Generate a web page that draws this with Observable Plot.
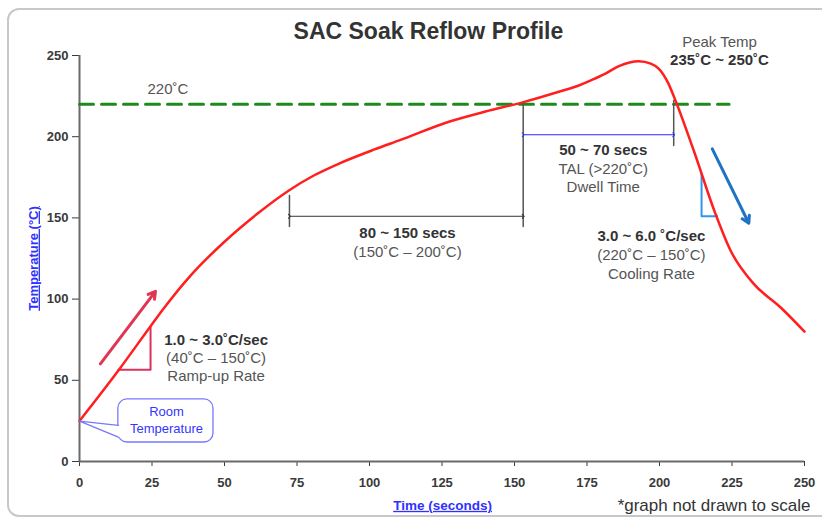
<!DOCTYPE html>
<html>
<head>
<meta charset="utf-8">
<script src="https://cdn.jsdelivr.net/npm/d3@7"></script>
<script src="https://cdn.jsdelivr.net/npm/@observablehq/plot@0.6"></script>
<style>
  body { margin: 0; background: #fff; }
  #wrap { position: relative; width: 822px; height: 517px; overflow: hidden; background: #fff; }
  #frame { position: absolute; left: 7px; top: 8px; width: 840px; height: 509px; border: 2px solid #c8c8c8; border-radius: 12px; pointer-events: none; box-sizing: border-box; }
</style>
</head>
<body>
<div id="wrap"><div id="frame"></div></div>
<script>
// ---- data (time in seconds, temperature in °C) ----
const curveTime = [0, 13.6, 24.5, 28.5, 38.3, 49.8, 61.3, 72.2, 80.8, 89.7, 101.5, 110.7, 127.9, 140, 152.5, 165, 172.8, 176.5, 181, 186, 192.9, 197, 199.8, 203, 205.5, 211.8, 219.3, 224.5, 232.5, 241.7, 250];
const curveTemp = [25, 56.5, 83.3, 93, 114.5, 135, 152.5, 166.9, 176.1, 183.6, 192, 198, 209.5, 215.5, 221, 227.5, 232, 234.8, 238.5, 243.5, 246.5, 245, 241.8, 233, 222.3, 191.5, 152.5, 129.9, 109.4, 95, 80];
const xTicks = [0, 25, 50, 75, 100, 125, 150, 175, 200, 225, 250];
const yTicks = [0, 50, 100, 150, 200, 250];
const liquidusTemp = 220;
const liquidusSpan = [0, 224];

// soak and TAL spans
const soakStart = 72.4, soakEnd = 153, soakArrowTemp = 151, soakGuideBottom = 144.7;
const talEnd = 204.9, talArrowTemp = 201.2, talGuideBottom = 194.6;

// annotation anchor points (time, temp)
const guides = [
  {id: "a", t: soakStart, temp: 163.8}, {id: "a", t: soakStart, temp: soakGuideBottom},
  {id: "b", t: soakEnd, temp: 221}, {id: "b", t: soakEnd, temp: soakGuideBottom},
  {id: "c", t: talEnd, temp: 222.3}, {id: "c", t: talEnd, temp: talGuideBottom}
];
const rampTriangle = [{t: 13.4, temp: 56.5}, {t: 24.5, temp: 56.5}, {t: 24.5, temp: 83}];
const coolTriangle = [{t: 214.5, temp: 177.2}, {t: 214.5, temp: 151}, {t: 219.9, temp: 151}];
const rampArrow = [{t1: 7.2, y1: 60.1, t2: 26.2, y2: 104.8}];
const coolArrow = [{t1: 218.2, y1: 192.5, t2: 230.8, y2: 146.7}];

const roomBox = [{t1: 13.4, t2: 46.2, y1: 11.7, y2: 38.2}];
const roomPointer = [{t: 13.4, temp: 22.2}, {t: 0, temp: 24.8}, {t: 13.4, temp: 15}];
const roomPointerCover = [{t: 13.4, temp: 22.2}, {t: 0, temp: 24.8}, {t: 13.4, temp: 15}, {t: 14.4, temp: 15}, {t: 14.4, temp: 22.2}];
const roomLabels = [{t: 30, temp: 30.4, text: "Room"}, {t: 30, temp: 20.2, text: "Temperature"}];

const boldNotes = [
  {t: 47.1, temp: 74.9, text: "1.0 ~ 3.0˚C/sec"},
  {t: 113.1, temp: 140.6, text: "80 ~ 150 secs"},
  {t: 180.6, temp: 191.5, text: "50 ~ 70 secs"},
  {t: 197.2, temp: 138.7, text: "3.0 ~ 6.0 ˚C/sec"},
  {t: 220.7, temp: 246.9, text: "235˚C ~ 250˚C"}
];
const plainNotes = [
  {t: 47.1, temp: 63.8, text: "(40˚C – 150˚C)"},
  {t: 47.1, temp: 52.3, text: "Ramp-up Rate"},
  {t: 113.1, temp: 128.9, text: "(150˚C – 200˚C)"},
  {t: 180.6, temp: 179.8, text: "TAL (>220˚C)"},
  {t: 180.6, temp: 168.9, text: "Dwell Time"},
  {t: 197.2, temp: 126.8, text: "(220˚C – 150˚C)"},
  {t: 197.2, temp: 115.6, text: "Cooling Rate"},
  {t: 220.7, temp: 258, text: "Peak Temp"},
  {t: 30.5, temp: 229, text: "220˚C"}
];

const titleText = "SAC Soak Reflow Profile";
const xLabel = "Time (seconds)";
const yLabel = "Temperature (°C)";
const captionText = "*graph not drawn to scale";

const curve = curveTime.map((t, i) => ({t, temp: curveTemp[i]}));
const font = "'Liberation Sans', Arial, sans-serif";
const centered = {textAnchor: "middle", lineAnchor: "middle"};

const chart = Plot.plot({
  width: 822,
  height: 517,
  marginLeft: 79,
  marginRight: 18,
  marginTop: 55,
  marginBottom: 56,
  style: {fontFamily: font, background: "transparent", overflow: "visible"},
  x: {domain: [0, 250]},
  y: {domain: [0, 250]},
  marks: [
    Plot.axisX({ticks: xTicks, tickSize: 5, tickPadding: 11, fontSize: 13, fontWeight: "bold", color: "#3a3a3a", label: null}),
    Plot.axisY({ticks: yTicks, tickSize: 7, tickPadding: 4, fontSize: 13, fontWeight: "bold", color: "#3a3a3a", label: null}),
    Plot.ruleX([0], {stroke: "#6a6a6a", strokeWidth: 2}),
    Plot.ruleY([0], {stroke: "#6a6a6a", strokeWidth: 2}),
    // 220 °C liquidus
    Plot.line(liquidusSpan.map(t => ({t, temp: liquidusTemp})), {x: "t", y: "temp", stroke: "#1e8a1e", strokeWidth: 3, strokeDasharray: "14,8"}),
    // guides
    Plot.line(guides, {x: "t", y: "temp", z: "id", stroke: "#555", strokeWidth: 1.5}),
    Plot.link([{t1: soakStart, t2: soakEnd, y: soakArrowTemp}], {x1: "t1", x2: "t2", y1: "y", y2: "y", stroke: "#333", strokeWidth: 1, markerStart: "arrow", markerEnd: "arrow"}),
    Plot.link([{t1: soakEnd, t2: talEnd, y: talArrowTemp}], {x1: "t1", x2: "t2", y1: "y", y2: "y", stroke: "#2a2aff", strokeWidth: 1, markerStart: "arrow", markerEnd: "arrow"}),
    // slope triangles and arrows
    Plot.line(rampTriangle, {x: "t", y: "temp", stroke: "#d8345f", strokeWidth: 2}),
    Plot.line(coolTriangle, {x: "t", y: "temp", stroke: "#2f96ee", strokeWidth: 2}),
    Plot.arrow(rampArrow, {x1: "t1", y1: "y1", x2: "t2", y2: "y2", stroke: "#e03553", strokeWidth: 3, headLength: 4}),
    Plot.arrow(coolArrow, {x1: "t1", y1: "y1", x2: "t2", y2: "y2", stroke: "#1f73c4", strokeWidth: 3, headLength: 4}),
    // profile curve
    Plot.line(curve, {x: "t", y: "temp", stroke: "#ff1f1f", strokeWidth: 2.5, curve: "monotone-x"}),
    // room temperature callout
    Plot.rect(roomBox, {x1: "t1", x2: "t2", y1: "y1", y2: "y2", rx: 9, fill: "white", stroke: "#7878ff", strokeWidth: 1.3}),
    Plot.line(roomPointerCover, {x: "t", y: "temp", fill: "white", stroke: "none"}),
    Plot.line(roomPointer, {x: "t", y: "temp", stroke: "#7878ff", strokeWidth: 1.3}),
    Plot.text(roomLabels, {x: "t", y: "temp", text: "text", fill: "#3535ff", fontSize: 13}),
    // notes
    Plot.text(boldNotes, {x: "t", y: "temp", text: "text", fill: "#333", fontSize: 15, fontWeight: "bold"}),
    Plot.text(plainNotes, {x: "t", y: "temp", text: "text", fill: "#555", fontSize: 15}),
    // title, axis labels, caption
    Plot.text([titleText], {x: 120.3, frameAnchor: "top", dy: -24, ...centered, text: d => d, fill: "#333", fontSize: 23, fontWeight: "bold"}),
    Plot.text([yLabel], {y: 125, frameAnchor: "left", dx: -46, rotate: -90, ...centered, text: d => d, fill: "#3030ff", fontSize: 13, fontWeight: "bold"}),
    Plot.text([xLabel], {x: 125.2, frameAnchor: "bottom", dy: 44, ...centered, text: d => d, fill: "#3030ff", fontSize: 13.5, fontWeight: "bold"}),
    Plot.text([captionText], {x: 218.8, frameAnchor: "bottom", dy: 44, ...centered, text: d => d, fill: "#333", fontSize: 17})
  ]
});

d3.select(chart).selectAll("text").filter(function() { return this.textContent === xLabel || this.textContent === yLabel; })
  .style("text-decoration", "underline");
chart.style.position = "absolute";
chart.style.left = "0px";
chart.style.top = "0px";
document.getElementById("wrap").insertBefore(chart, document.getElementById("frame"));
</script>
</body>
</html>
